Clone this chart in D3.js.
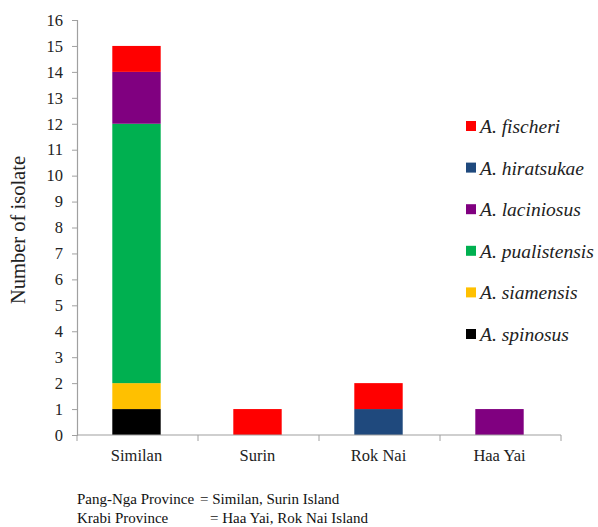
<!DOCTYPE html>
<html>
<head>
<meta charset="utf-8">
<script src="https://cdn.jsdelivr.net/npm/d3@7"></script>
<style>
  body { margin: 0; background: #fff; }
  svg { display: block; }
</style>
</head>
<body>
<svg id="chart" width="598" height="527"></svg>
<script>
// Sampling sites and isolate counts per species
const sites = ["Similan", "Surin", "Rok Nai", "Haa Yai"];
const species = ["A. fischeri", "A. hiratsukae", "A. laciniosus", "A. pualistensis", "A. siamensis", "A. spinosus"];
const speciesColors = ["#ff0000", "#1f497d", "#800080", "#00b050", "#ffc000", "#000000"];
const fischeri     = [1, 1, 1, 0];
const hiratsukae   = [0, 0, 1, 0];
const laciniosus   = [2, 0, 0, 1];
const pualistensis = [10, 0, 0, 0];
const siamensis    = [1, 0, 0, 0];
const spinosus     = [1, 0, 0, 0];
const yTicks = d3.range(0, 17);
const footnotes = [
  ["Pang-Nga Province", "= Similan, Surin Island"],
  ["Krabi Province", "= Haa Yai, Rok Nai Island"]
];

const serif = "'Liberation Serif'";
const seriesValues = [fischeri, hiratsukae, laciniosus, pualistensis, siamensis, spinosus];
const rows = sites.map((s, i) => {
  const r = { site: s };
  species.forEach((sp, j) => r[sp] = seriesValues[j][i]);
  return r;
});
// Stack from the bottom: last legend entry sits lowest
const stackKeys = species.slice().reverse();
const stacked = d3.stack().keys(stackKeys)(rows);
const color = d3.scaleOrdinal().domain(species).range(speciesColors);

const svg = d3.select("#chart");
const plotLeft = 77, plotRight = 561, plotTop = 20, plotBottom = 435;

const x = d3.scaleBand().domain(sites).range([plotLeft, plotRight]).paddingInner(0.6).paddingOuter(0.3);
const y = d3.scaleLinear().domain([0, 16]).range([plotBottom, plotTop]);

// Bars
svg.append("g").selectAll("g").data(stacked).join("g")
  .attr("fill", d => color(d.key))
  .selectAll("rect").data(d => d).join("rect")
  .attr("x", d => x(d.data.site) - 1)
  .attr("width", x.bandwidth())
  .attr("y", d => y(d[1]))
  .attr("height", d => y(d[0]) - y(d[1]));

// Y axis
const yAxis = svg.append("g").attr("transform", `translate(${plotLeft},0)`)
  .call(d3.axisLeft(y).tickValues(yTicks).tickSize(5).tickPadding(9).tickFormat(d3.format("d")));
yAxis.attr("font-family", serif).attr("font-size", 16.5);
yAxis.select(".domain").attr("stroke", "#a0a0a0").attr("stroke-width", 1.2);
yAxis.selectAll(".tick line").attr("stroke", "#a0a0a0");
yAxis.selectAll(".tick text").attr("fill", "#222");

// X axis with boundary ticks between categories
const xAxis = svg.append("g").attr("transform", `translate(0,${plotBottom})`);
xAxis.append("line").attr("x1", plotLeft).attr("x2", plotRight).attr("stroke", "#a0a0a0").attr("stroke-width", 1.2);
const bounds = d3.range(sites.length + 1).map(i => plotLeft + i * x.step());
xAxis.selectAll("line.tk").data(bounds).join("line").attr("class", "tk")
  .attr("x1", d => d).attr("x2", d => d).attr("y1", 0).attr("y2", 6)
  .attr("stroke", "#a0a0a0");
xAxis.selectAll("text").data(sites).join("text")
  .attr("x", d => x(d) + x.bandwidth() / 2 - 1)
  .attr("y", 26)
  .attr("text-anchor", "middle")
  .attr("fill", "#222")
  .attr("font-family", serif).attr("font-size", 16.5)
  .text(d => d);

// Y axis title
svg.append("text")
  .attr("transform", "translate(25,230) rotate(-90)")
  .attr("text-anchor", "middle")
  .attr("fill", "#222")
  .attr("font-family", serif)
  .attr("font-size", 20.5)
  .text("Number of isolate");

// Legend
const legend = svg.append("g").selectAll("g").data(species).join("g")
  .attr("transform", (d, i) => `translate(466,${127 + i * 41.6})`);
legend.append("rect").attr("x", 0).attr("y", -6).attr("width", 10).attr("height", 10)
  .attr("fill", d => color(d));
legend.append("text").attr("x", 14).attr("y", 6)
  .attr("fill", "#222")
  .attr("font-family", serif)
  .attr("font-size", 19.5).attr("font-style", "italic")
  .text(d => d);

// Footnotes
const noteOffsets = [123, 133];
const notes = svg.append("g").selectAll("g").data(footnotes).join("g")
  .attr("transform", (d, i) => `translate(77,${504 + i * 19})`);
notes.append("text").attr("x", 0).attr("fill", "#111")
  .attr("font-family", serif).attr("font-size", 15).text(d => d[0]);
notes.append("text").attr("x", (d, i) => noteOffsets[i]).attr("fill", "#111")
  .attr("font-family", serif).attr("font-size", 15).text(d => d[1]);
</script>
</body>
</html>
